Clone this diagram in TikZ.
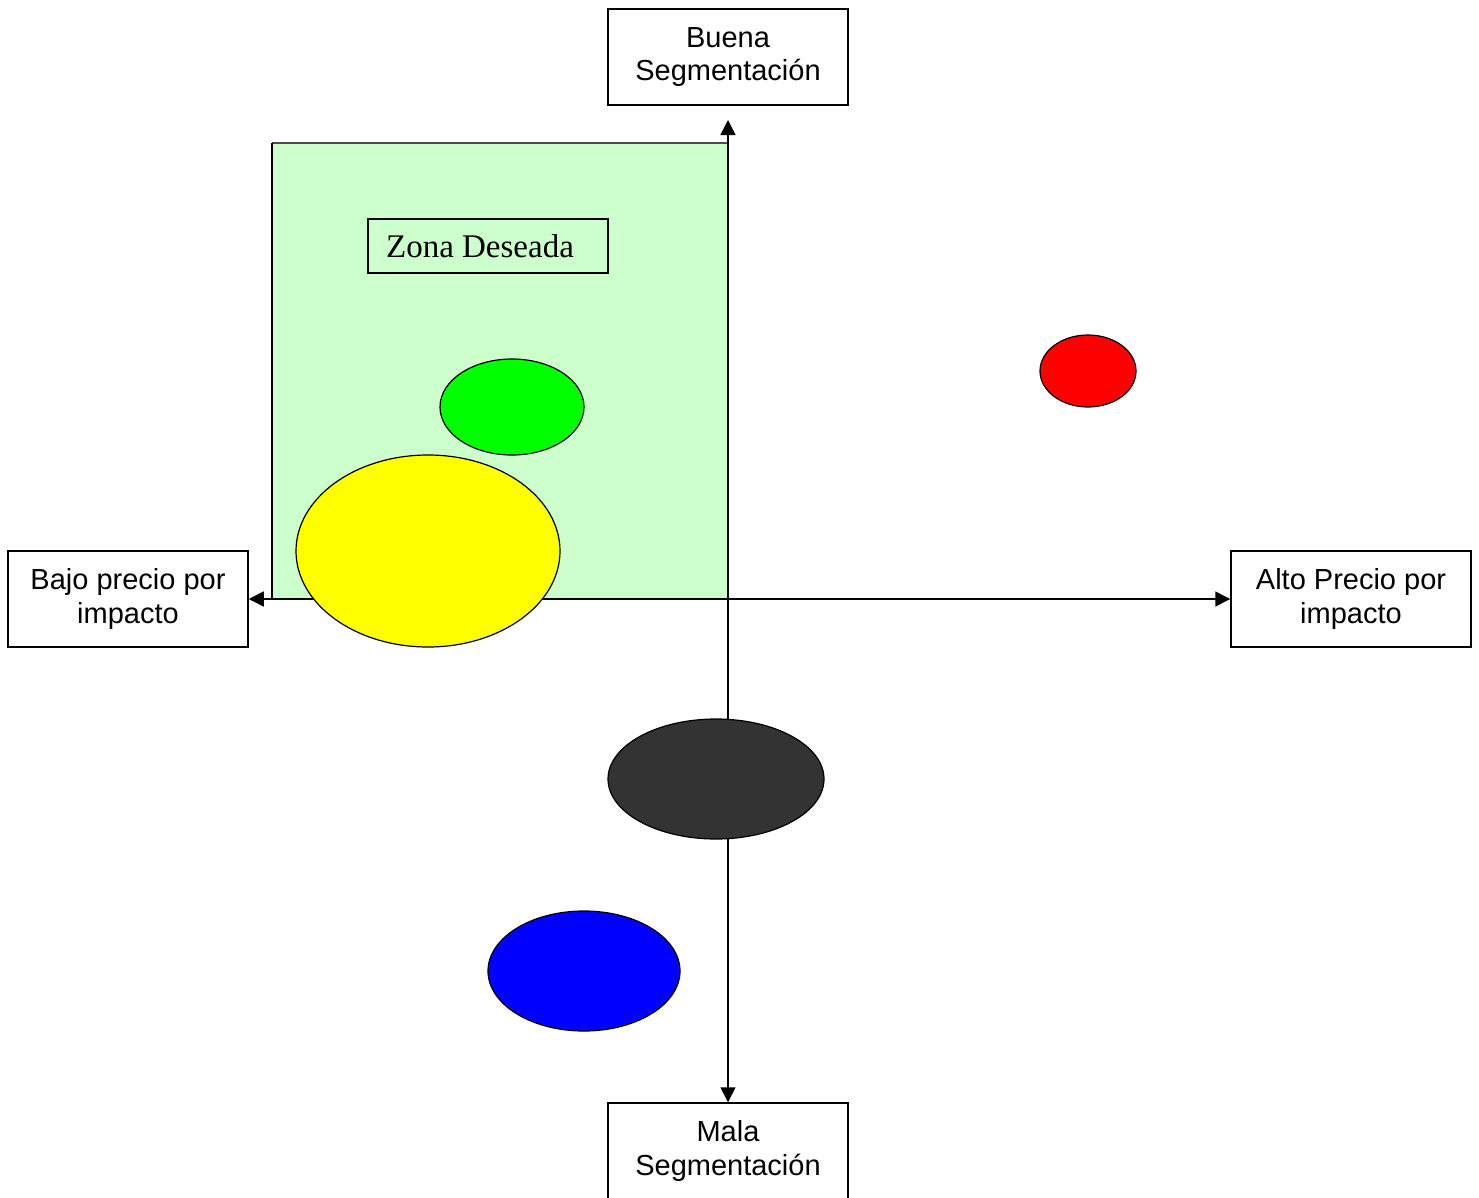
\documentclass[tikz,border=0pt]{standalone}
\usepackage{fontspec}
\setmainfont{Liberation Sans}
\newfontfamily\zonafont{Liberation Serif}
\usetikzlibrary{arrows.meta,shapes.geometric}

\definecolor{zonegreen}{RGB}{204,255,204}
\definecolor{dotred}{RGB}{255,0,0}
\definecolor{dotgreen}{RGB}{0,255,0}
\definecolor{dotyellow}{RGB}{255,255,0}
\definecolor{dotgrey}{RGB}{51,51,51}
\definecolor{dotblue}{RGB}{0,0,255}

\tikzset{
  label box/.style={draw=black, line width=1.5pt, fill=white, minimum width=240pt,
    minimum height=96pt, inner sep=0pt, align=center,
    font=\fontsize{29}{33.5}\selectfont},
  axis/.style={draw=black, line width=1.5pt, -{Triangle[length=15pt,width=15pt]}},
  blob/.style={draw=black, line width=1.2pt, ellipse, inner sep=0pt},
}

\begin{document}
\begin{tikzpicture}[x=1pt, y=-1pt]
  \useasboundingbox (0,0) rectangle (1479,1197);
  \clip (0,0) rectangle (1479,1197);

  % desired zone
  \fill[zonegreen] (272,143) rectangle (728,599);
  \draw[line width=1.5pt, black!70] (272,143) -- (728,143);
  \draw[line width=1.5pt] (272,143) -- (272,599);
  \node[draw=black, line width=1.5pt, fill=zonegreen,
        minimum width=240pt, minimum height=54pt, inner sep=0pt,
        font=\zonafont\fontsize{33}{36}\selectfont] (zona) at (488,246)
        {\hspace*{-16pt}\raisebox{-2pt}{Zona Deseada}};

  % axis labels
  \node[label box] (buena) at (728,57) {Buena\\Segmentación};
  \node[label box] (mala) at (728,1151) {Mala\\Segmentación};
  \node[label box] (bajo) at (128,599) {Bajo precio por\\impacto};
  \node[label box] (alto) at (1351,599) {Alto Precio por\\impacto};

  % axes
  \coordinate (o) at (728,599);
  \coordinate (top) at (728,120);
  \draw[axis] (o) -- (bajo.east);
  \draw[axis] (o) -- (alto.west);
  \draw[axis] (o) -- (top);
  \draw[axis] (o) -- (mala.north);

  % positioned items
  \node[blob, fill=dotred, minimum width=96pt, minimum height=72pt] (rojo) at (1088,371) {};
  \node[blob, fill=dotgreen, minimum width=144pt, minimum height=96pt] (verde) at (512,407) {};
  \node[blob, fill=dotyellow, minimum width=264pt, minimum height=192pt] (amarillo) at (428,551) {};
  \node[blob, fill=dotgrey, minimum width=216pt, minimum height=120pt] (gris) at (716,779) {};
  \node[blob, fill=dotblue, minimum width=192pt, minimum height=120pt] (azul) at (584,971) {};
\end{tikzpicture}
\end{document}
